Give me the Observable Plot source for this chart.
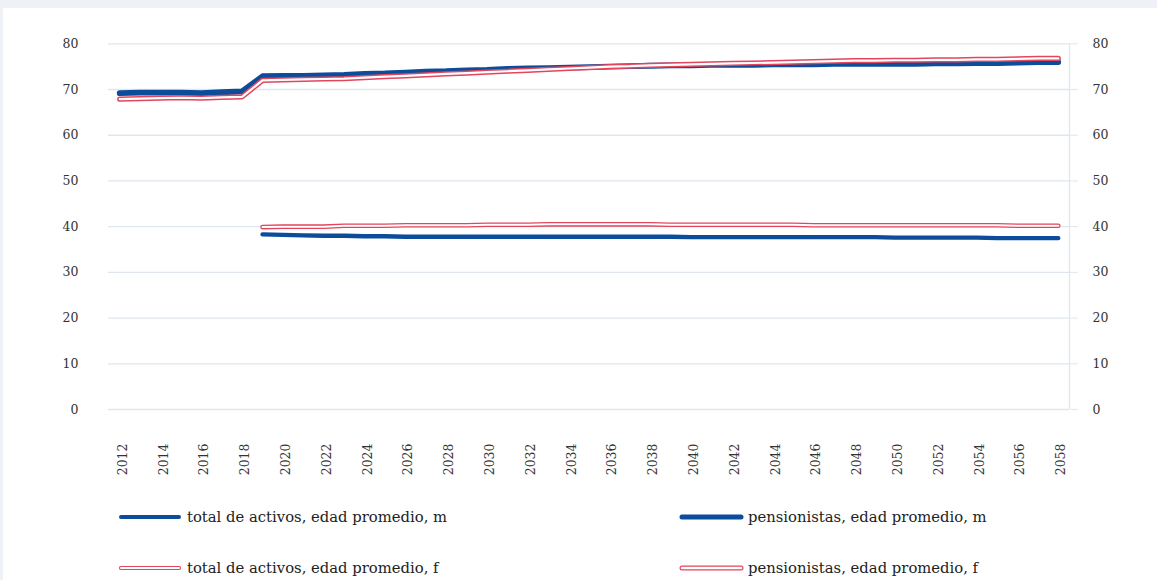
<!DOCTYPE html>
<html>
<head>
<meta charset="utf-8">
<script src="https://cdn.jsdelivr.net/npm/d3@7"></script>
<script src="https://cdn.jsdelivr.net/npm/@observablehq/plot@0.6"></script>
<style>
  html, body { margin: 0; padding: 0; background: #eef2f6; }
  body { width: 1157px; height: 580px; position: relative; overflow: hidden; font-family: "DejaVu Serif", serif; }
  #panel { position: absolute; left: 3px; top: 8px; width: 1154px; height: 572px; background: #ffffff; }
  #chart { position: absolute; left: 0; top: 0; }
  .leg { position: absolute; display: flex; align-items: center; font-size: 14.8px; line-height: 18px; color: #222; white-space: nowrap; }
  .leg svg { margin-right: 4px; }
</style>
</head>
<body>
<div id="panel">
  <div id="chart"></div>
  <div id="legend"></div>
</div>
<script>
// ---- data ----
const yearsPension = d3.range(2012, 2059);
const yearsActivos = d3.range(2019, 2059);
const tickYears = d3.range(2012, 2059, 2);
const yTicks = [0, 10, 20, 30, 40, 50, 60, 70, 80];

const pensionM = [69.2, 69.3, 69.3, 69.3, 69.2, 69.4, 69.6, 72.9, 73.0, 73.0, 73.1, 73.2, 73.4, 73.5, 73.7, 73.9, 74.0, 74.2, 74.3, 74.5, 74.6, 74.7, 74.8, 74.9, 75.0, 75.1, 75.2, 75.3, 75.3, 75.4, 75.4, 75.4, 75.5, 75.5, 75.5, 75.6, 75.6, 75.6, 75.6, 75.6, 75.7, 75.7, 75.8, 75.8, 75.9, 76.0, 76.0];
const pensionF = [67.9, 68.0, 68.1, 68.2, 68.1, 68.3, 68.4, 72.0, 72.1, 72.2, 72.3, 72.4, 72.6, 72.8, 73.0, 73.2, 73.4, 73.6, 73.8, 74.0, 74.2, 74.4, 74.6, 74.8, 75.0, 75.1, 75.3, 75.4, 75.5, 75.6, 75.7, 75.8, 75.9, 76.0, 76.1, 76.2, 76.3, 76.3, 76.4, 76.4, 76.5, 76.5, 76.6, 76.6, 76.7, 76.8, 76.8];
const activosF = [39.9, 40.0, 40.0, 40.0, 40.2, 40.2, 40.2, 40.3, 40.3, 40.3, 40.3, 40.4, 40.4, 40.4, 40.5, 40.5, 40.5, 40.5, 40.5, 40.5, 40.4, 40.4, 40.4, 40.4, 40.4, 40.4, 40.4, 40.3, 40.3, 40.3, 40.3, 40.3, 40.3, 40.3, 40.3, 40.3, 40.3, 40.2, 40.2, 40.2];
const activosM = [38.3, 38.2, 38.1, 38.0, 38.0, 37.9, 37.9, 37.8, 37.8, 37.8, 37.8, 37.8, 37.8, 37.8, 37.8, 37.8, 37.8, 37.8, 37.8, 37.8, 37.8, 37.7, 37.7, 37.7, 37.7, 37.7, 37.7, 37.7, 37.7, 37.7, 37.7, 37.6, 37.6, 37.6, 37.6, 37.6, 37.5, 37.5, 37.5, 37.5];

const seriesNames = [
  "total de activos, edad promedio, m",
  "pensionistas, edad promedio, m",
  "total de activos, edad promedio, f",
  "pensionistas, edad promedio, f"
];

const BLUE = "#0b4c9b";
const RED = "#e2455c";
const GRID = "#dfe6ee";

const toRows = (years, vals) => years.map((y, i) => ({year: y, value: vals[i]}));
const rAM = toRows(yearsActivos, activosM);
const rAF = toRows(yearsActivos, activosF);
const rPM = toRows(yearsPension, pensionM);
const rPF = toRows(yearsPension, pensionF);

const lineOpts = {x: "year", y: "value", strokeLinecap: "round", strokeLinejoin: "round"};

const chart = Plot.plot({
  width: 1154,
  height: 480,
  marginTop: 35.3,
  marginBottom: 79,
  marginLeft: 105,
  marginRight: 88,
  style: {fontFamily: "DejaVu Serif, serif", fontSize: "12.5px", color: "#333", background: "transparent"},
  x: {domain: [2011.45, 2058.55]},
  y: {domain: [0, 80]},
  marks: [
    Plot.gridY(yTicks, {stroke: GRID, strokeOpacity: 1, strokeWidth: 1.3}),
    Plot.ruleX([2058.55], {y1: 0, y2: 80, stroke: GRID, strokeWidth: 1.3}),
    Plot.axisY(yTicks, {anchor: "left", tickSize: 0, tickPadding: 30, fill: "#333", tickFormat: d => String(d), label: null}),
    Plot.axisY(yTicks, {anchor: "right", tickSize: 8, tickPadding: 15, stroke: GRID, strokeOpacity: 1, fill: "#333", tickFormat: d => String(d), label: null}),
    Plot.axisX(tickYears, {anchor: "bottom", tickSize: 0, tickPadding: 34, tickRotate: -90, fill: "#333", tickFormat: d => String(d), label: null, dx: 3}),
    // total de activos, m
    Plot.line(rAM, {...lineOpts, stroke: BLUE, strokeWidth: 4.4}),
    // total de activos, f
    Plot.line(rAF, {...lineOpts, stroke: RED, strokeWidth: 4.6}),
    Plot.line(rAF, {...lineOpts, stroke: "#ffffff", strokeWidth: 2}),
    // pensionistas, m
    Plot.line(rPM, {...lineOpts, stroke: BLUE, strokeWidth: 5.8}),
    // pensionistas, f
    Plot.line(rPF, {...lineOpts, stroke: RED, strokeWidth: 5.2}),
    Plot.line(rPF, {...lineOpts, stroke: "#ffffff", strokeWidth: 2.2})
  ]
});
document.getElementById("chart").appendChild(chart);

// ---- legend ----
const legendItems = [
  {name: seriesNames[0], left: 114, top: 500, type: "solid", w: 4},
  {name: seriesNames[1], left: 675, top: 500, type: "solid", w: 5},
  {name: seriesNames[2], left: 114, top: 551, type: "double", w: 4.2},
  {name: seriesNames[3], left: 675, top: 551, type: "double", w: 5}
];
const leg = d3.select("#legend");
legendItems.forEach((it, i) => {
  const div = leg.append("div").attr("class", "leg")
    .style("left", it.left + "px").style("top", it.top + "px");
  const sw = div.append("svg").attr("width", 66).attr("height", 12);
  const len = i % 2 === 1 ? 63 : 62;
  if (it.type === "solid") {
    sw.append("line").attr("x1", 4).attr("x2", len).attr("y1", 6).attr("y2", 6)
      .attr("stroke", BLUE).attr("stroke-width", it.w).attr("stroke-linecap", "round");
  } else {
    sw.append("line").attr("x1", 4).attr("x2", len).attr("y1", 6).attr("y2", 6)
      .attr("stroke", RED).attr("stroke-width", it.w).attr("stroke-linecap", "round");
    sw.append("line").attr("x1", 4).attr("x2", len).attr("y1", 6).attr("y2", 6)
      .attr("stroke", "#fff").attr("stroke-width", it.w - 2.4).attr("stroke-linecap", "round");
  }
  div.append("span").text(it.name);
});
</script>
</body>
</html>
